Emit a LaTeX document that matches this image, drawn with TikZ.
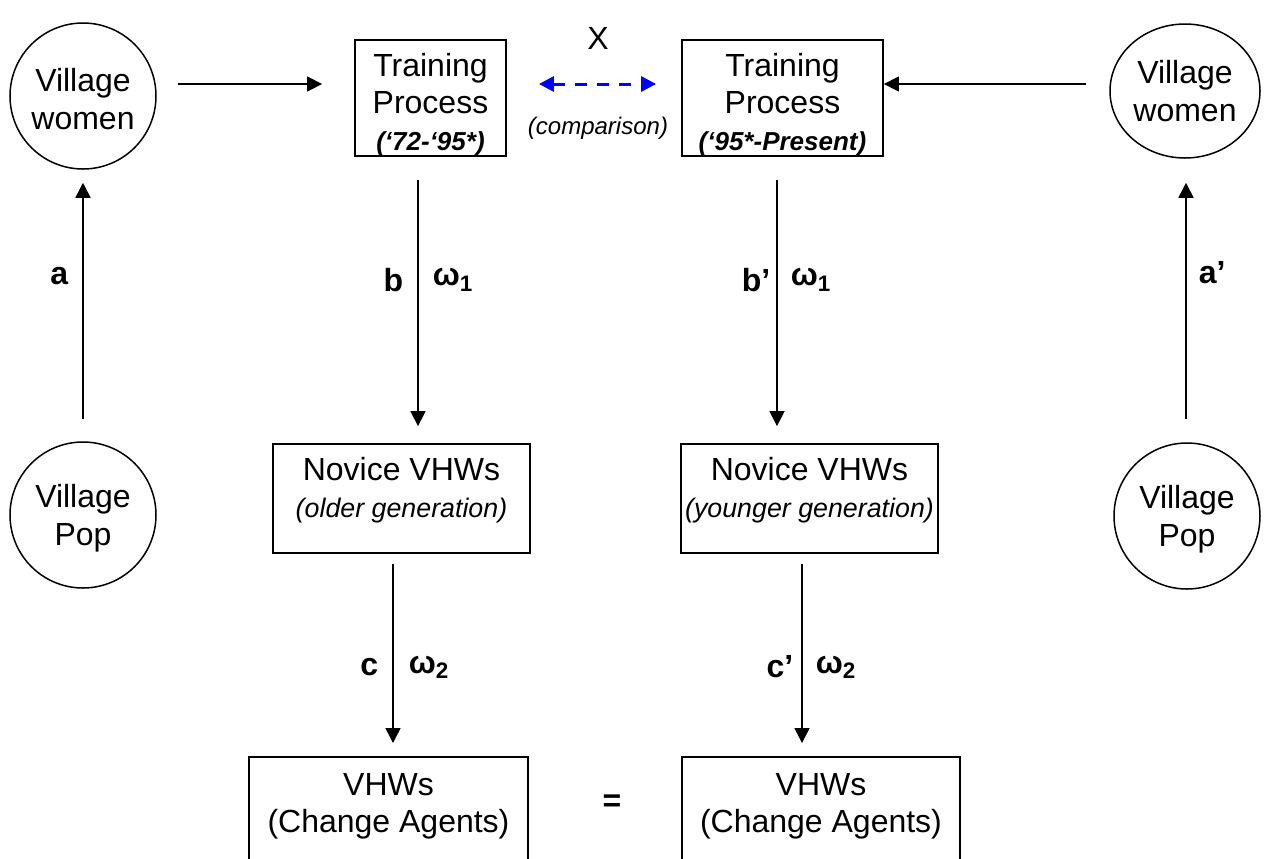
\documentclass[tikz,border=0pt]{standalone}
\usepackage{fontspec}
\setmainfont{Liberation Sans}
\usetikzlibrary{arrows.meta,shapes.geometric}

\begin{document}
\begin{tikzpicture}[x=0.5pt, y=-0.5pt,
    font=\fontsize{16}{18.5}\selectfont,
    vil/.style={circle, draw, line width=0.75pt, minimum size=73pt, inner sep=0pt, align=center,
        font=\fontsize{16}{19}\selectfont},
    stage/.style={rectangle, draw, line width=0.9pt, align=center, inner sep=2pt},
    arr/.style={-{Triangle[length=7.5pt, width=7.5pt]}, line width=0.75pt},
    lbl/.style={font=\fontsize{16}{18.5}\selectfont\bfseries, inner sep=0pt}]
    \path[use as bounding box] (0,0) rectangle (1265,858);
    \clip (0,0) rectangle (1265,858);

    % Village nodes
    \node[vil] (VWL) at (83,96) {\rule{0pt}{15pt}Village\\women};
    \node[vil, ellipse, minimum width=75pt, minimum height=67pt] (VWR) at (1185,91) {Village\\women};
    \node[vil] (VPL) at (83,515) {\rule{0pt}{15pt}Village\\Pop};
    \node[vil] (VPR) at (1187,516) {\rule{0pt}{15pt}Village\\Pop};

    % Training process
    \node[stage, inner ysep=0pt, minimum width=75.5pt, minimum height=58pt] (TP1) at (430.5,98)
        {\rule{0pt}{18pt}Training\\Process\\{\fontsize{13}{15}\selectfont\bfseries\itshape (‘72-‘95*)}};
    \node[stage, inner ysep=0pt, minimum width=100.5pt, minimum height=58pt] (TP2) at (782.5,98)
        {\rule{0pt}{18pt}Training\\Process\\{\fontsize{13}{15}\selectfont\bfseries\itshape (‘95*-Present)}};
    \node (X) at (598,38) {X};
    \node[font=\fontsize{12}{14}\selectfont\itshape] (CMP) at (598,128) {(comparison)};

    % Novice VHWs
    \node[stage, minimum width=128.5pt, minimum height=54.5pt] (NV1) at (401.5,498.5)
        {Novice VHWs\\{\fontsize{13.4}{16}\selectfont\itshape (older generation)}\\[-7pt]\mbox{}};
    \node[stage, minimum width=128.5pt, minimum height=54.5pt] (NV2) at (809.5,498.5)
        {Novice VHWs\\{\fontsize{13.4}{16}\selectfont\itshape (younger generation)}\\[-7pt]\mbox{}};

    % Change agents
    \node[stage, anchor=north, minimum width=139.5pt, minimum height=65pt] (CA1) at (388.5,756)
        {VHWs\\(Change Agents)\\\mbox{}};
    \node[stage, anchor=north, minimum width=139pt, minimum height=65pt] (CA2) at (821,756)
        {VHWs\\(Change Agents)\\\mbox{}};
    \node[font=\fontsize{16}{18.5}\selectfont\bfseries] (EQ) at (612,803) {=};

    % Connections
    \draw[arr, shorten <=10.5pt, shorten >=16pt] ([yshift=6pt]VWL.east) -- ([yshift=7pt]TP1.west);
    \draw[arr, shorten <=11.5pt] ([yshift=3.5pt]VWR.west) -- ([yshift=7pt]TP2.east);
    \draw[{Triangle[length=7.5pt, width=7.5pt]}-{Triangle[length=7.5pt, width=7.5pt]}, blue, line width=1.5pt,
        dash pattern=on 6pt off 5pt, shorten <=16pt, shorten >=12.5pt]
        ([yshift=7pt]TP1.east) -- ([yshift=7pt]TP2.west);

    \draw[arr, shorten <=11pt, shorten >=6.5pt] (VPL.north) -- node[lbl, pos=0.61, left=7pt] {a} (VWL.south);
    \draw[arr, shorten <=11.5pt, shorten >=12pt] ([xshift=-0.5pt]VPR.north) -- node[lbl, pos=0.6, right=6pt] {a’} ([xshift=0.5pt]VWR.south);

    \draw[arr, shorten <=11.5pt, shorten >=8.5pt] ([xshift=-6.25pt]TP1.south) --
        node[lbl, pos=0.43, left=7pt] {b} node[lbl, pos=0.43, right=7pt] {ω\textsubscript{1}} ([xshift=8.25pt]NV1.north);
    \draw[arr, shorten <=11.5pt, shorten >=8.5pt] ([xshift=-2.75pt]TP2.south) --
        node[lbl, pos=0.43, left=3pt] {b’} node[lbl, pos=0.43, right=6.5pt] {ω\textsubscript{1}} ([xshift=-16.25pt]NV2.north);

    \draw[arr, shorten <=5pt, shorten >=6.5pt] ([xshift=-4.25pt]NV1.south) --
        node[lbl, pos=0.56, left=7pt] {c} node[lbl, pos=0.56, right=7.5pt] {ω\textsubscript{2}} ([xshift=2.25pt]CA1.north);
    \draw[arr, shorten <=5pt, shorten >=6.5pt] ([xshift=-3.75pt]NV2.south) --
        node[lbl, pos=0.56, left=4pt] {c’} node[lbl, pos=0.56, right=6.5pt] {ω\textsubscript{2}} ([xshift=-9.5pt]CA2.north);
\end{tikzpicture}
\end{document}
